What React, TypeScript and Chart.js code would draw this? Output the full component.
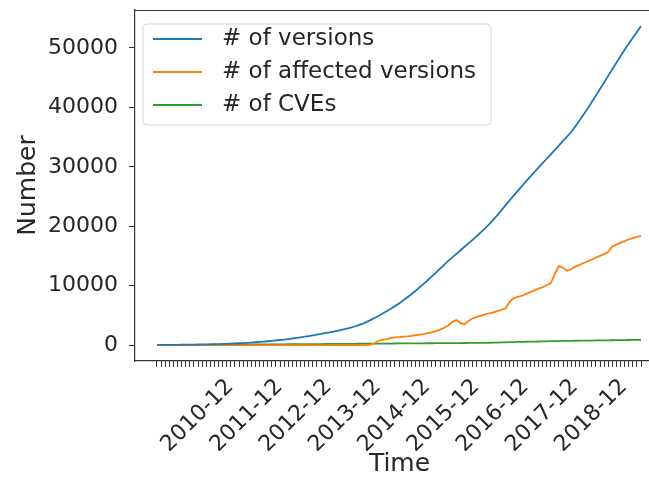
import React, { useEffect, useRef } from 'react';
import { Chart, registerables } from 'chart.js';

Chart.register(...registerables);

const FONT = "'DejaVu Sans', 'Liberation Sans', sans-serif";
const TEXT = '#262626';
const AXIS = '#333333';

// Monthly time axis: 2010-02 .. 2019-12
const START_YEAR = 2010;
const START_MONTH = 2;
const N_MONTHS = 119;
const months: string[] = [];
for (let k = 0; k < N_MONTHS; k++) {
  const m = START_MONTH - 1 + k;
  const y = START_YEAR + Math.floor(m / 12);
  const mm = (m % 12) + 1;
  months.push(`${y}-${String(mm).padStart(2, '0')}`);
}

const xTickLabels = ['2010-12', '2011-12', '2012-12', '2013-12', '2014-12', '2015-12', '2016-12', '2017-12', '2018-12'];
const yTicks = [0, 10000, 20000, 30000, 40000, 50000];

const seriesNames = ['# of versions', '# of affected versions', '# of CVEs'];
const seriesColors = ['#1f77b4', '#ff7f0e', '#2ca02c'];

const numVersions = [
  20, 25, 30, 35, 40, 45, 55, 60, 70, 80,
  90, 100, 115, 130, 145, 165, 185, 210, 240, 270,
  300, 340, 380, 420, 470, 520, 580, 640, 700, 770,
  850, 930, 1010, 1100, 1200, 1300, 1400, 1520, 1640, 1760,
  1880, 2000, 2120, 2260, 2400, 2560, 2720, 2880, 3080, 3300,
  3550, 3850, 4200, 4550, 4900, 5300, 5700, 6100, 6550, 7000,
  7500, 8000, 8550, 9100, 9700, 10300, 10900, 11550, 12200, 12850,
  13500, 14150, 14750, 15350, 15950, 16550, 17150, 17750, 18350, 19000,
  19650, 20350, 21100, 21850, 22700, 23550, 24400, 25200, 26000, 26800,
  27600, 28350, 29100, 29850, 30600, 31350, 32100, 32850, 33600, 34350,
  35100, 35900, 36800, 37800, 38800, 39800, 40900, 42000, 43100, 44200,
  45300, 46400, 47500, 48600, 49700, 50700, 51700, 52700, 53700,
];

const numAffected = [
  0, 0, 0, 0, 0, 0, 0, 0, 0, 0,
  0, 0, 0, 0, 0, 0, 0, 0, 0, 0,
  0, 0, 0, 0, 0, 0, 0, 0, 0, 0,
  0, 0, 0, 0, 0, 0, 0, 0, 0, 0,
  0, 0, 0, 0, 0, 0, 0, 0, 0, 0,
  0, 0, 50, 300, 700, 900, 1000, 1150, 1300, 1350,
  1400, 1450, 1550, 1650, 1750, 1850, 2000, 2150, 2350, 2600,
  2900, 3300, 3900, 4200, 3700, 3500, 4100, 4500, 4750, 4950,
  5150, 5350, 5500, 5700, 5900, 6200, 7300, 7900, 8100, 8300,
  8600, 8900, 9200, 9500, 9700, 10100, 10400, 12000, 13300, 13000,
  12500, 12800, 13200, 13500, 13800, 14100, 14400, 14700, 15000, 15300,
  15700, 16600, 16900, 17200, 17500, 17800, 18000, 18200, 18350,
];

const numCVEs = [
  10, 12, 14, 16, 18, 20, 22, 25, 28, 30,
  33, 36, 40, 44, 48, 52, 56, 60, 64, 68,
  72, 76, 80, 85, 90, 95, 100, 105, 110, 115,
  120, 125, 130, 135, 140, 145, 150, 155, 160, 165,
  170, 175, 180, 185, 190, 195, 200, 205, 210, 215,
  220, 225, 230, 235, 240, 245, 250, 255, 260, 265,
  270, 275, 280, 285, 290, 295, 300, 305, 310, 315,
  320, 325, 330, 335, 340, 345, 350, 355, 360, 370,
  380, 390, 400, 420, 440, 460, 480, 500, 520, 540,
  555, 570, 585, 600, 615, 630, 645, 660, 675, 690,
  700, 710, 720, 730, 740, 750, 760, 770, 780, 790,
  800, 810, 820, 830, 840, 850, 860, 870, 880,
];

const seriesValues = [numVersions, numAffected, numCVEs];

const spinePlugin = {
  id: 'topSpine',
  afterDraw(chart: any) {
    const { ctx, chartArea } = chart;
    ctx.save();
    ctx.strokeStyle = AXIS;
    ctx.lineWidth = 1.2;
    ctx.beginPath();
    ctx.moveTo(chartArea.left, chartArea.top + 0.5);
    ctx.lineTo(chartArea.right, chartArea.top + 0.5);
    ctx.lineTo(chartArea.right, chartArea.bottom);
    ctx.stroke();
    ctx.restore();
  },
};

const legendPlugin = {
  id: 'insideLegend',
  afterDraw(chart: any) {
    const { ctx } = chart;
    const x0 = 143, y0 = 24, w = 348, h = 101, r = 4;
    ctx.save();
    ctx.beginPath();
    ctx.moveTo(x0 + r, y0);
    ctx.lineTo(x0 + w - r, y0);
    ctx.arcTo(x0 + w, y0, x0 + w, y0 + r, r);
    ctx.lineTo(x0 + w, y0 + h - r);
    ctx.arcTo(x0 + w, y0 + h, x0 + w - r, y0 + h, r);
    ctx.lineTo(x0 + r, y0 + h);
    ctx.arcTo(x0, y0 + h, x0, y0 + h - r, r);
    ctx.lineTo(x0, y0 + r);
    ctx.arcTo(x0, y0, x0 + r, y0, r);
    ctx.closePath();
    ctx.fillStyle = 'rgba(255,255,255,0.85)';
    ctx.fill();
    ctx.strokeStyle = '#d6d6d6';
    ctx.lineWidth = 1;
    ctx.stroke();
    const rows = [39, 72, 105];
    seriesNames.forEach((name, k) => {
      ctx.strokeStyle = seriesColors[k];
      ctx.lineWidth = 2;
      ctx.beginPath();
      ctx.moveTo(153, rows[k]);
      ctx.lineTo(202, rows[k]);
      ctx.stroke();
      ctx.fillStyle = TEXT;
      ctx.font = `23px ${FONT}`;
      ctx.textAlign = 'left';
      ctx.textBaseline = 'middle';
      ctx.fillText(name, 222, rows[k]);
    });
    ctx.restore();
  },
};

export default function App() {
  const canvasRef = useRef<HTMLCanvasElement | null>(null);

  useEffect(() => {
    if (!canvasRef.current) return;
    const chart = new Chart(canvasRef.current, {
      type: 'line',
      data: {
        datasets: seriesNames.map((name, k) => ({
          label: name,
          data: seriesValues[k].map((v, i) => ({ x: i, y: v })),
          borderColor: seriesColors[k],
          backgroundColor: seriesColors[k],
          borderWidth: 1.8,
          pointRadius: 0,
          tension: 0,
          fill: false,
        })),
      },
      options: {
        animation: false,
        responsive: false,
        devicePixelRatio: 1,
        layout: { padding: { top: 10, left: 0, right: 16, bottom: 0 } },
        plugins: { legend: { display: false }, tooltip: { enabled: false } },
        scales: {
          x: {
            type: 'linear',
            min: -5.36,
            max: 123.6,
            afterBuildTicks: (s: any) => {
              s.ticks = months.map((_, i) => ({ value: i }));
            },
            afterFit: (s: any) => {
              s.height = 122;
              s.paddingLeft = 0;
              s.paddingRight = 0;
            },
            ticks: {
              autoSkip: false,
              minRotation: 45,
              maxRotation: 45,
              labelOffset: 32,
              padding: 7,
              color: TEXT,
              font: { family: FONT, size: 22 },
              callback: (v: any) => {
                const lbl = months[v as number];
                return xTickLabels.includes(lbl) ? lbl : '';
              },
            },
            grid: { drawOnChartArea: false, drawTicks: true, tickLength: 6, color: AXIS },
            border: { display: true, color: AXIS, width: 1.2 },
            title: {
              display: true,
              text: 'Time',
              color: TEXT,
              font: { family: FONT, size: 25 },
              padding: { top: 0, bottom: 4 },
            },
          },
          y: {
            type: 'linear',
            min: -2685,
            max: 56385,
            afterBuildTicks: (s: any) => {
              s.ticks = yTicks.map((v) => ({ value: v }));
            },
            afterFit: (s: any) => {
              s.width = 135;
              s.paddingTop = 0;
              s.paddingBottom = 0;
            },
            ticks: {
              padding: 11,
              color: TEXT,
              font: { family: FONT, size: 22 },
              callback: (v: any) => String(v),
            },
            grid: { drawOnChartArea: false, drawTicks: true, tickLength: 6, color: AXIS },
            border: { display: true, color: AXIS, width: 1.2 },
            title: {
              display: true,
              text: 'Number',
              color: TEXT,
              font: { family: FONT, size: 25 },
              padding: { top: 13, bottom: 0 },
            },
          },
        },
      },
      plugins: [spinePlugin, legendPlugin],
    });
    return () => chart.destroy();
  }, []);

  return (
    <div style={{ position: 'fixed', left: 0, top: 0, width: 649, height: 483, background: '#fff', overflow: 'hidden' }}>
      <canvas ref={canvasRef} width={680} height={483} style={{ width: 680, height: 483 }} />
    </div>
  );
}
